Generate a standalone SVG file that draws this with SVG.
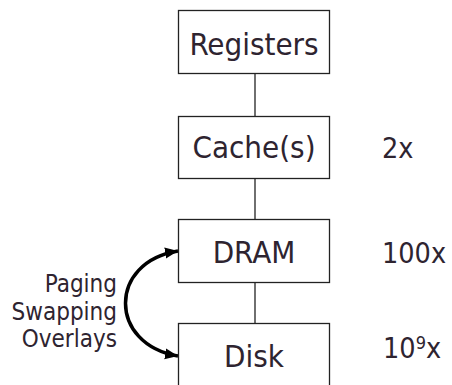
<svg xmlns="http://www.w3.org/2000/svg" width="452" height="385" viewBox="0 0 452 385">
<defs>
<style>
.box{fill:#fff;stroke:#222;stroke-width:1.3}
.lbl{font-family:"DejaVu Sans Condensed","Liberation Sans",Arial,sans-serif;font-stretch:condensed;font-size:31px;fill:#2e2430;text-anchor:middle}
.side{font-family:"DejaVu Sans Condensed","Liberation Sans",Arial,sans-serif;font-stretch:condensed;font-size:28.5px;fill:#2e2430}
.left{font-family:"DejaVu Sans Condensed","Liberation Sans",Arial,sans-serif;font-stretch:condensed;font-size:24px;fill:#2e2430;text-anchor:end}
.conn{stroke:#222;stroke-width:1.3;fill:none}
.curve{stroke:#000;stroke-width:3.5;fill:none}
</style>
<marker id="ah" markerUnits="userSpaceOnUse" markerWidth="14" markerHeight="14" viewBox="0 0 14 14" refX="13" refY="7" orient="auto-start-reverse">
<path d="M0,1.5 L13,7 L0,12.5 Z" fill="#000"/>
</marker>
</defs>
<rect width="452" height="385" fill="#fff"/>
<g id="connectors">
<line class="conn" x1="255" y1="73.5" x2="255" y2="116.5"/>
<line class="conn" x1="255" y1="178.5" x2="255" y2="219.5"/>
<line class="conn" x1="255" y1="282.5" x2="255" y2="323.5"/>
<path class="curve" d="M178,251 C108,262 108,344 178,356" marker-start="url(#ah)" marker-end="url(#ah)"/>
</g>
<g id="registers">
<rect class="box" x="178.5" y="10.5" width="151" height="63"/>
<text class="lbl" x="254" y="54.5">Registers</text>
</g>
<g id="cache">
<rect class="box" x="178.5" y="116.5" width="151" height="62"/>
<text class="lbl" x="254" y="158">Cache(s)</text>
</g>
<g id="dram">
<rect class="box" x="178.5" y="219.5" width="151" height="63"/>
<text class="lbl" x="254" y="263">DRAM</text>
</g>
<g id="disk">
<rect class="box" x="178.5" y="323.5" width="151" height="63"/>
<text class="lbl" x="254" y="367">Disk</text>
</g>
<g id="factors">
<text class="side" x="382" y="158">2x</text>
<text class="side" x="382" y="263">100x</text>
<text class="side" x="383" y="358">10<tspan font-size="18" dy="-9">9</tspan><tspan dy="9">x</tspan></text>
</g>
<g id="mechanisms">
<text class="left" x="117" y="292">Paging</text>
<text class="left" x="117" y="319.5">Swapping</text>
<text class="left" x="117" y="347">Overlays</text>
</g>
</svg>
